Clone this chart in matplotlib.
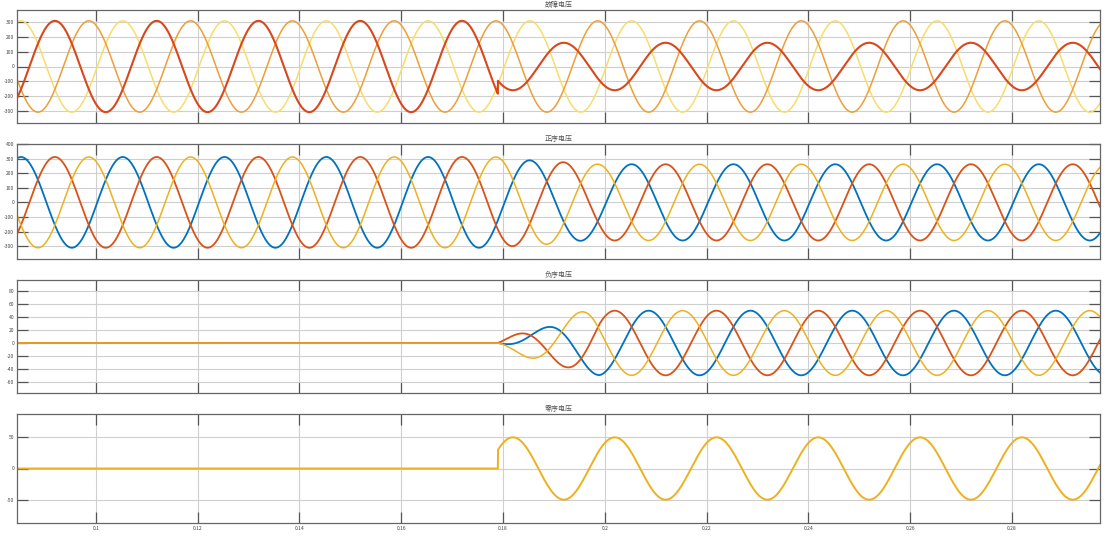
import numpy as np
import matplotlib
matplotlib.use("Agg")
import matplotlib.pyplot as plt

plt.rcParams['font.family'] = ['Noto Sans CJK SC', 'DejaVu Sans']

# ---- data ----
TITLES = ["故障电压", "正序电压", "负序电压", "零序电压"]
FREQ = 50.0                      # Hz
AMPLITUDE = 311.0                # peak phase voltage before fault
PHASE_DEG = [145.0, 25.0, -95.0] # phases A, B, C (cosine reference)
FAULT_TIME = 0.179               # s
FAULT_SCALE = [0.52, 1.0, 1.0]   # phase magnitudes after the fault
T_START, T_END = 0.0845, 0.2973
XTICKS = [0.1, 0.12, 0.14, 0.16, 0.18, 0.2, 0.22, 0.24, 0.26, 0.28]
XTICK_LABELS = ["0.1", "0.12", "0.14", "0.16", "0.18", "0.2", "0.22", "0.24", "0.26", "0.28"]
YTICKS = [[-300, -200, -100, 0, 100, 200, 300],
          [-300, -200, -100, 0, 100, 200, 300, 400],
          [-60, -40, -20, 0, 20, 40, 60, 80],
          [-50, 0, 50]]
YLIMS = [(-385, 385), (-388, 400), (-77, 97), (-87, 87)]

TOP_COLORS = ["#D9481C", "#EE9E38", "#F6DD6C"]      # A, B, C in faulted-voltage panel
SEQ_COLORS = ["#D95319", "#EDB120", "#0072BD"]      # A, B, C in sequence panels
ZERO_COLOR = "#EDB120"

# ---- signals ----
w = 2 * np.pi * FREQ
dt = 2e-5
N = int(round(1 / FREQ / dt))
t_all = np.arange(T_START - 1 / FREQ, T_END + dt, dt)
phases = []
for k in range(3):
    scale = np.where(t_all >= FAULT_TIME, FAULT_SCALE[k], 1.0)
    phases.append(scale * AMPLITUDE * np.cos(w * t_all + np.deg2rad(PHASE_DEG[k])))

# one-cycle sliding DFT phasors
def phasor(v):
    z = v * np.exp(-1j * w * t_all)
    c = np.concatenate([[0], np.cumsum(z)])
    out = np.zeros_like(z)
    out[N - 1:] = (c[N:] - c[:-N]) * 2 / N
    out[:N - 1] = out[N - 1]
    return out

Pa, Pb, Pc = (phasor(v) for v in phases)
a = np.exp(1j * 2 * np.pi / 3)
V1 = (Pa + a * Pb + a**2 * Pc) / 3
V2 = (Pa + a**2 * Pb + a * Pc) / 3
rot = np.exp(1j * w * t_all)
pos = [np.real(V1 * rot), np.real(a**2 * V1 * rot), np.real(a * V1 * rot)]
neg = [np.real(V2 * rot), np.real(a * V2 * rot), np.real(a**2 * V2 * rot)]
zero = (phases[0] + phases[1] + phases[2]) / 3

mask = t_all >= T_START
t = t_all[mask]

# ---- figure ----
W, H = 1108, 538
fig = plt.figure(figsize=(W / 100, H / 100), dpi=100)
boxes = [(10, 123), (144, 259), (280, 393), (414, 523)]
left, right = 17, 1100
axes = []
for (top, bot) in boxes:
    ax = fig.add_axes([left / W, 1 - bot / H, (right - left) / W, (bot - top) / H])
    axes.append(ax)

def style(ax, i):
    ax.set_xlim(T_START, T_END)
    ax.set_ylim(*YLIMS[i])
    ax.set_xticks(XTICKS)
    ax.set_yticks(YTICKS[i])
    ax.set_yticklabels([str(v) for v in YTICKS[i]])
    if i == 3:
        ax.set_xticklabels(XTICK_LABELS)
    else:
        ax.set_xticklabels([])
    ax.grid(True, color="#cfcfcf", lw=0.8)
    ax.set_axisbelow(True)
    ax.tick_params(direction="in", top=True, right=True, length=8, width=0.9,
                   color="#555555", labelsize=3.6, labelcolor="#444444", pad=2)
    for s in ax.spines.values():
        s.set_color("#666666")
        s.set_linewidth(0.9)
    ax.set_title(TITLES[i], fontsize=5, color="#555555", pad=2)

# panel 1: faulted phase voltages
ax = axes[0]
ax.plot(t, phases[2][mask], color=TOP_COLORS[2], lw=1.1)
ax.plot(t, phases[1][mask], color=TOP_COLORS[1], lw=1.1)
ax.plot(t, phases[0][mask], color=TOP_COLORS[0], lw=1.5)
style(ax, 0)

# panel 2: positive sequence
ax = axes[1]
ax.plot(t, pos[2][mask], color=SEQ_COLORS[2], lw=1.3)
ax.plot(t, pos[0][mask], color=SEQ_COLORS[0], lw=1.3)
ax.plot(t, pos[1][mask], color=SEQ_COLORS[1], lw=1.1)
style(ax, 1)

# panel 3: negative sequence
ax = axes[2]
ax.plot(t, neg[2][mask], color=SEQ_COLORS[2], lw=1.3)
ax.plot(t, neg[0][mask], color=SEQ_COLORS[0], lw=1.3)
ax.plot(t, neg[1][mask], color=SEQ_COLORS[1], lw=1.1)
style(ax, 2)

# panel 4: zero sequence
ax = axes[3]
ax.plot(t, zero[mask], color=ZERO_COLOR, lw=1.4)
style(ax, 3)

fig.savefig("out.png", dpi=100, facecolor="white")
